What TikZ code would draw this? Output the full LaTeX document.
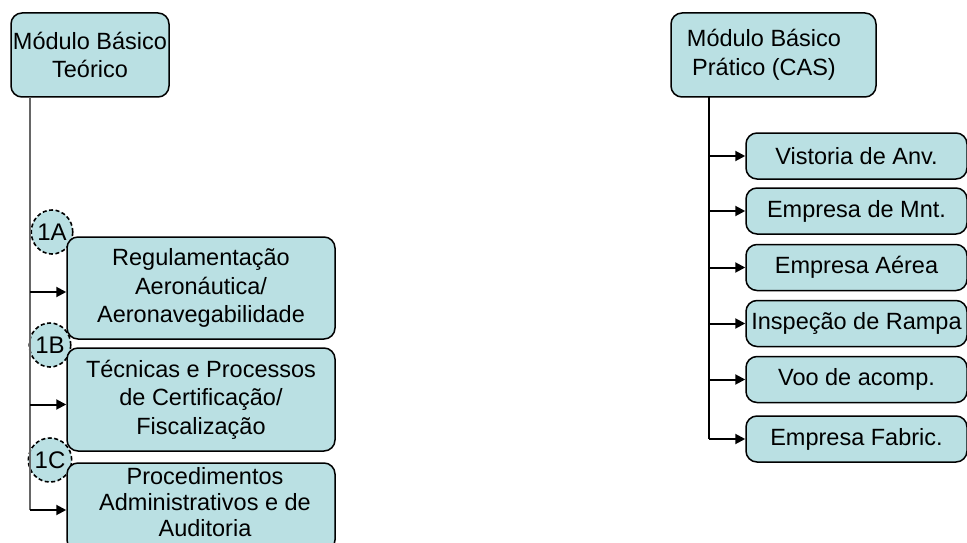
\documentclass[tikz,border=0pt]{standalone}
\usepackage{fontspec}
\setmainfont{Liberation Sans}
\usetikzlibrary{shapes.geometric,arrows.meta}
\definecolor{boxfill}{RGB}{186,224,227}
\tikzset{
  box/.style={draw=black, line width=1.5pt, fill=boxfill, rounded corners=11pt, align=center,
    inner sep=0pt, font=\fontsize{23.5}{28.5}\selectfont},
  boxtext/.style={align=center, inner sep=0pt, font=\fontsize{23.5}{26}\selectfont},
  tag/.style={draw=black, dash pattern=on 4pt off 2.5pt, line width=1.6pt, fill=boxfill, ellipse, inner sep=0pt,
    minimum width=38pt, minimum height=44pt, font=\fontsize{24}{26}\selectfont},
  arr/.style={-{Triangle[length=10pt,width=10pt]}, line width=2pt, black},
  trunkL/.style={line width=1.6pt, draw=gray!80!black},
  trunkR/.style={line width=1.2pt, draw=black}
}
\begin{document}
\begin{tikzpicture}[x=1pt,y=-1pt]
\useasboundingbox (0,0) rectangle (967,543);
% left column
\node[box, minimum width=158pt, minimum height=84pt] (T1) at (90,55) {Módulo Básico\\Teórico};
\node[tag] (c1) at (52,232) {1A};
\node[tag] (c2) at (50,345) {1B};
\node[tag] (c3) at (50,460) {1C};
\node[box, minimum width=268pt, minimum height=102pt] (A) at (201,288) {Regulamentação\\Aeronáutica/\\Aeronavegabilidade};
\node[box, minimum width=268pt, minimum height=103pt] (B) at (201,399.5) {Técnicas e Processos\\de Certificação/\\Fiscalização};
\node[box, minimum width=268pt, minimum height=88pt] (C) at (201,507) {};
\node[boxtext] (Ct) at (205,502) {Procedimentos\\Administrativos e de\\Auditoria};
\coordinate (lt) at (30,97);
\draw[trunkL] (lt) -- ([yshift=-3pt]lt |- C.west);
\draw[arr] ([yshift=-4pt]lt |- A.west) -- ([yshift=-4pt]A.west);
\draw[arr] ([yshift=-5pt]lt |- B.west) -- ([yshift=-5pt]B.west);
\draw[arr] ([yshift=-3pt]lt |- C.west) -- ([yshift=-3pt]C.west);
% right column
\node[box, minimum width=205pt, minimum height=84pt] (T2) at (773.5,55) {};
\node[boxtext, font=\fontsize{23.5}{28.5}\selectfont] (T2t) at (764,55) {Módulo Básico\\Prático (CAS)};
\node[box, minimum width=221pt, minimum height=46pt] (R1) at (856.5,156) {Vistoria de Anv.};
\node[box, minimum width=221pt, minimum height=46pt] (R2) at (856.5,211) {Empresa de Mnt.};
\node[box, minimum width=221pt, minimum height=46pt] (R3) at (856.5,267.5) {Empresa Aérea};
\node[box, minimum width=221pt, minimum height=46pt] (R4) at (856.5,323.5) {Inspeção de Rampa};
\node[box, minimum width=221pt, minimum height=46pt] (R5) at (856.5,379.5) {Voo de acomp.};
\node[box, minimum width=221pt, minimum height=46pt] (R6) at (856.5,439) {Empresa Fabric.};
\coordinate (rt) at (709,97);
\draw[trunkR] (rt) -- (rt |- R6.west);
\foreach \n in {R1,R2,R3,R4,R5,R6}{
  \draw[arr] (rt |- \n.west) -- (\n.west);
}
\end{tikzpicture}
\end{document}
